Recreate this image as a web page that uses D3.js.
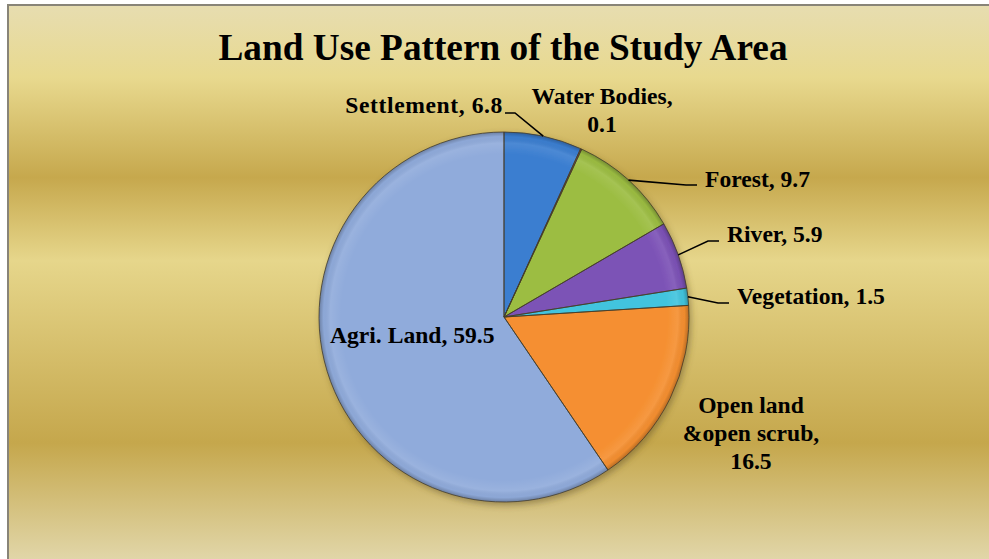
<!DOCTYPE html>
<html>
<head>
<meta charset="utf-8">
<script src="https://cdn.jsdelivr.net/npm/d3@7"></script>
<style>
  html, body { margin: 0; padding: 0; background: #ffffff; }
  svg { display: block; }
  text { font-family: "Liberation Serif", "Times New Roman", serif; font-weight: bold; fill: #000; }
</style>
</head>
<body>
<svg id="chart" width="989" height="559"></svg>
<script>
// Land use shares (%), clockwise from 12 o'clock
const categories = ["Settlement", "Water Bodies", "Forest", "River", "Vegetation", "Open land &open scrub", "Agri. Land"];
const values = [6.8, 0.1, 9.7, 5.9, 1.5, 16.5, 59.5];
const sliceColors = ["#3b7ed0", "#c0504d", "#9cbd42", "#7c52b6", "#42c4de", "#f58f30", "#90abdb"];
// How each category label is broken into lines; the value is appended to the last line
// unless valueOwnLine is set.
const labelNameLines = [["Settlement,"], ["Water Bodies,"], ["Forest,"], ["River,"], ["Vegetation,"], ["Open land", "&open scrub,"], ["Agri. Land,"]];
const valueOwnLine = [false, true, false, false, false, true, false];
const titleText = "Land Use Pattern of the Study Area";

const W = 989, H = 559;
const svg = d3.select("#chart");
const defs = svg.append("defs");

// Chart area background: horizontal gold bands
const bg = defs.append("linearGradient").attr("id", "bgGrad")
  .attr("x1", 0).attr("y1", 0).attr("x2", 0).attr("y2", 1);
[[0, "#e7ddb0"], [0.13, "#e8d98e"], [0.31, "#c6a84d"], [0.46, "#e6d68b"], [0.79, "#c5a74c"], [1, "#e1d6a8"]]
  .forEach(([o, c]) => bg.append("stop").attr("offset", o).attr("stop-color", c));

svg.append("rect").attr("x", 9).attr("y", 6).attr("width", W - 9).attr("height", H - 6)
  .attr("fill", "url(#bgGrad)");
svg.append("line").attr("x1", 8).attr("x2", W).attr("y1", 5).attr("y2", 5)
  .attr("stroke", "#888478").attr("stroke-width", 2);
svg.append("line").attr("x1", 8).attr("x2", 8).attr("y1", 4).attr("y2", H)
  .attr("stroke", "#888478").attr("stroke-width", 2);

// Title
svg.append("text").attr("x", 503).attr("y", 60).attr("text-anchor", "middle")
  .style("font-size", "37.3px").text(titleText);

// Pie geometry
const cx = 504, cy = 317, R = 185;
const g = svg.append("g").attr("transform", `translate(${cx},${cy})`);

const shadow = defs.append("filter").attr("id", "pieShadow")
  .attr("x", "-20%").attr("y", "-20%").attr("width", "140%").attr("height", "140%");
shadow.append("feDropShadow").attr("dx", 2).attr("dy", 3).attr("stdDeviation", 3)
  .attr("flood-color", "#5a4a20").attr("flood-opacity", 0.45);

// Soft bevel: faint light rim just inside the edge, darker at the very edge
const bevel = defs.append("radialGradient").attr("id", "bevel")
  .attr("gradientUnits", "userSpaceOnUse").attr("cx", 0).attr("cy", 0).attr("r", R);
[[0, "#ffffff", 0], [0.88, "#ffffff", 0], [0.94, "#ffffff", 0.09], [0.975, "#000000", 0.02], [1, "#000000", 0.25]]
  .forEach(([o, c, a]) => bevel.append("stop").attr("offset", o).attr("stop-color", c).attr("stop-opacity", a));

const pie = d3.pie().sort(null).value(d => d).startAngle(0).endAngle(2 * Math.PI);
const arcs = pie(values);
const arc = d3.arc().innerRadius(0).outerRadius(R);

const pieG = g.append("g").attr("filter", "url(#pieShadow)");
pieG.selectAll("path.slice").data(arcs).join("path")
  .attr("class", "slice")
  .attr("d", arc)
  .attr("fill", (d, i) => sliceColors[i]);
pieG.selectAll("path.bevel").data(arcs).join("path")
  .attr("class", "bevel")
  .attr("d", arc)
  .attr("fill", "url(#bevel)")
  .attr("stroke", "#453d2a").attr("stroke-opacity", 0.8).attr("stroke-width", 1);

// Label placement, relative to the pie centre:
// x,y = text anchor / first baseline; anchor = text-anchor; leader = draw a leader line,
// lineY = y of the short horizontal leader segment, side = which side of the label it touches
const labelLayout = [
  { x: -1, y: -204, anchor: "end", leader: true, lineY: -204, side: "right", spacing: 0.6 },
  { x: 98, y: -213, anchor: "middle", leader: false },
  { x: 201, y: -130, anchor: "start", leader: true, lineY: -132, side: "left" },
  { x: 223, y: -75, anchor: "start", leader: true, lineY: -76, side: "left" },
  { x: 233, y: -13, anchor: "start", leader: true, lineY: -14, side: "left" },
  { x: 247, y: 96, anchor: "middle", leader: false },
  { x: -174, y: 26, anchor: "start", leader: false }
];
const lineH = 28;

const labels = g.append("g");
arcs.forEach((a, i) => {
  const L = labelLayout[i];
  const lines = labelNameLines[i].slice();
  const v = String(values[i]);
  if (valueOwnLine[i]) lines.push(v);
  else lines[lines.length - 1] = lines[lines.length - 1] + " " + v;

  const t = labels.append("text").attr("text-anchor", L.anchor)
    .style("font-size", "23.6px")
    .style("letter-spacing", (L.spacing || 0) + "px");
  lines.forEach((s, k) => t.append("tspan").attr("x", L.x).attr("y", L.y + k * lineH).text(s));

  if (L.leader) {
    const mid = (a.startAngle + a.endAngle) / 2;
    const p0 = [R * Math.sin(mid), -R * Math.cos(mid)];
    let pEnd, pElbow;
    if (L.side === "left") {
      pEnd = [L.x - 8, L.lineY];
      pElbow = [L.x - 19, L.lineY];
    } else {
      pEnd = [L.x + 2, L.lineY];
      pElbow = [L.x + 12, L.lineY];
    }
    labels.append("path")
      .attr("d", d3.line()([p0, pElbow, pEnd]))
      .attr("fill", "none").attr("stroke", "#000").attr("stroke-width", 1.6);
  }
});
</script>
</body>
</html>
